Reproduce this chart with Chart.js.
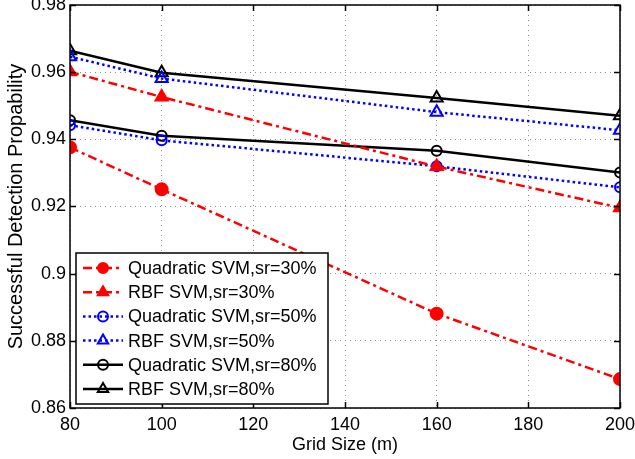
<!DOCTYPE html>
<html>
<head>
<meta charset="utf-8">
<script src="https://cdn.jsdelivr.net/npm/chart.js@4"></script>
<style>
  html, body { margin: 0; padding: 0; background: #ffffff; }
  canvas { display: block; }
</style>
</head>
<body>
<canvas id="detChart" width="635" height="459"></canvas>
<script>
// grid sizes (m)
const gridSizes = [80, 100, 160, 200];

// detection probability per method / sampling rate
const quad30 = [0.9376, 0.9251, 0.8881, 0.8686];
const rbf30 = [0.9601, 0.9526, 0.9319, 0.9196];
const quad50 = [0.9442, 0.9397, 0.9320, 0.9257];
const rbf50 = [0.9646, 0.9581, 0.9481, 0.9427];
const quad80 = [0.9457, 0.9411, 0.9366, 0.9301];
const rbf80 = [0.9664, 0.9598, 0.9523, 0.9470];

const seriesLabels = [
    'Quadratic SVM,sr=30%',
    'RBF SVM,sr=30%',
    'Quadratic SVM,sr=50%',
    'RBF SVM,sr=50%',
    'Quadratic SVM,sr=80%',
    'RBF SVM,sr=80%'
];

const xTicks = [80, 100, 120, 140, 160, 180, 200];
const yTicks = [0.86, 0.88, 0.9, 0.92, 0.94, 0.96, 0.98];

const FONT = "'Liberation Sans', Arial, sans-serif";

function toPoints(values) {
    return gridSizes.map((g, i) => ({ x: g, y: values[i] }));
}

function markerSize(style, filled) {
    if (style === 'triangle') return 7;
    return filled ? 6 : 5;
}

function makeSet(label, values, color, dash, style, filled) {
    return {
        label: label,
        data: toPoints(values),
        borderColor: color,
        borderWidth: 2.5,
        borderDash: dash,
        pointStyle: style,
        pointRadius: markerSize(style, filled),
        pointBorderWidth: 2,
        pointBackgroundColor: filled ? color : 'rgba(0,0,0,0)',
        pointBorderColor: color,
        fill: false,
        tension: 0
    };
}

const dashDot = [9, 4, 3, 4];
const dotted = [2.5, 3];

// frame, inward ticks and the in-plot legend
const framePlugin = {
    id: 'frame',
    afterDraw(chart) {
        const ctx = chart.ctx;
        const area = chart.chartArea;
        const xs = chart.scales.x;
        const ys = chart.scales.y;
        ctx.save();
        ctx.strokeStyle = '#000000';
        ctx.lineWidth = 1.5;
        ctx.setLineDash([]);
        ctx.strokeRect(area.left, area.top, area.right - area.left, area.bottom - area.top);
        ctx.beginPath();
        xTicks.forEach(t => {
            const px = Math.round(xs.getPixelForValue(t)) + 0.5;
            ctx.moveTo(px, area.bottom);
            ctx.lineTo(px, area.bottom - 6);
            ctx.moveTo(px, area.top);
            ctx.lineTo(px, area.top + 6);
        });
        yTicks.forEach(t => {
            const py = Math.round(ys.getPixelForValue(t)) + 0.5;
            ctx.moveTo(area.left, py);
            ctx.lineTo(area.left + 6, py);
            ctx.moveTo(area.right, py);
            ctx.lineTo(area.right - 6, py);
        });
        ctx.stroke();

        // legend box
        const boxL = area.left + 6;
        const boxB = area.bottom - 4;
        const boxW = 252;
        const boxH = 151;
        const boxT = boxB - boxH;
        ctx.fillStyle = '#ffffff';
        ctx.fillRect(boxL, boxT, boxW, boxH);
        ctx.strokeStyle = '#000000';
        ctx.lineWidth = 1.5;
        ctx.strokeRect(boxL, boxT, boxW, boxH);

        ctx.font = '18px ' + FONT;
        ctx.textBaseline = 'middle';
        ctx.textAlign = 'left';
        chart.data.datasets.forEach((ds, i) => {
            const y = boxT + 15 + i * 24.2;
            ctx.save();
            ctx.strokeStyle = ds.borderColor;
            ctx.lineWidth = 2.5;
            ctx.setLineDash(ds.borderDash || []);
            ctx.beginPath();
            ctx.moveTo(boxL + 7, y);
            ctx.lineTo(boxL + 47, y);
            ctx.stroke();
            ctx.restore();
            ctx.save();
            ctx.setLineDash([]);
            ctx.lineWidth = 2;
            ctx.strokeStyle = ds.pointBorderColor;
            ctx.fillStyle = ds.pointBackgroundColor;
            Chart.helpers.drawPoint(ctx, {
                pointStyle: ds.pointStyle,
                radius: ds.pointStyle === 'triangle' ? 6 : 5,
                borderWidth: 2,
                rotation: 0
            }, boxL + 27, y);
            ctx.restore();
            ctx.fillStyle = '#000000';
            ctx.fillText(ds.label, boxL + 52, y + 1);
        });
        ctx.restore();
    }
};

function initChart() {
    const ctx = document.getElementById('detChart').getContext('2d');

    new Chart(ctx, {
        type: 'line',
        data: {
            datasets: [
                makeSet(seriesLabels[0], quad30, '#ff0000', dashDot, 'circle', true),
                makeSet(seriesLabels[1], rbf30, '#ff0000', dashDot, 'triangle', true),
                makeSet(seriesLabels[2], quad50, '#0000ff', dotted, 'circle', false),
                makeSet(seriesLabels[3], rbf50, '#0000ff', dotted, 'triangle', false),
                makeSet(seriesLabels[4], quad80, '#000000', [], 'circle', false),
                makeSet(seriesLabels[5], rbf80, '#000000', [], 'triangle', false)
            ]
        },
        options: {
            responsive: false,
            animation: false,
            devicePixelRatio: 1,
            layout: {
                autoPadding: false,
                padding: { top: 5, right: 15, left: 0, bottom: 0 }
            },
            plugins: {
                legend: { display: false },
                tooltip: { enabled: false }
            },
            scales: {
                x: {
                    type: 'linear',
                    min: 80,
                    max: 200,
                    afterBuildTicks: scale => {
                        scale.ticks = xTicks.map(v => ({ value: v }));
                    },
                    afterFit: scale => {
                        scale.height = 51;
                        scale.paddingLeft = 0;
                        scale.paddingRight = 0;
                    },
                    grid: {
                        color: '#8c8c8c',
                        lineWidth: 1,
                        drawTicks: false
                    },
                    border: { display: false, dash: [1, 4] },
                    ticks: {
                        color: '#000000',
                        padding: 6,
                        maxRotation: 0,
                        font: { family: FONT, size: 18 }
                    },
                    title: {
                        display: true,
                        text: 'Grid Size (m)',
                        color: '#000000',
                        padding: { top: 0, bottom: 3 },
                        font: { family: FONT, size: 18 }
                    }
                },
                y: {
                    type: 'linear',
                    min: 0.86,
                    max: 0.98,
                    afterBuildTicks: scale => {
                        scale.ticks = yTicks.map(v => ({ value: v }));
                    },
                    afterFit: scale => {
                        scale.width = 70;
                        scale.paddingTop = 0;
                        scale.paddingBottom = 0;
                    },
                    grid: {
                        color: '#8c8c8c',
                        lineWidth: 1,
                        drawTicks: false
                    },
                    border: { display: false, dash: [1, 4] },
                    ticks: {
                        color: '#000000',
                        padding: 4,
                        font: { family: FONT, size: 18 },
                        callback: v => String(parseFloat(Number(v).toFixed(2)))
                    },
                    title: {
                        display: true,
                        text: 'Successful Detection Propability',
                        color: '#000000',
                        padding: { top: 4, bottom: 0 },
                        font: { family: FONT, size: 20 }
                    }
                }
            }
        },
        plugins: [framePlugin]
    });
}

document.addEventListener('DOMContentLoaded', () => {
    initChart();
});
</script>
</body>
</html>
